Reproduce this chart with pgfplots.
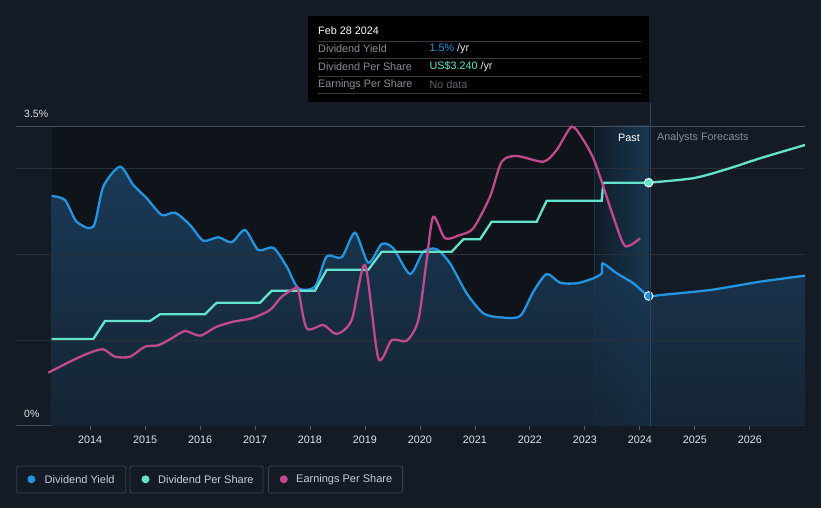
\documentclass[border=0pt]{standalone}
\usepackage{fontspec}
\setmainfont{Liberation Sans}
\usepackage{pgfplots}
\usepackage{pgfplotstable}
\pgfplotsset{compat=1.18}
\definecolor{bg}{HTML}{151B24}
\definecolor{darkreg}{HTML}{0F131A}
\definecolor{bandl}{HTML}{111B27}
\definecolor{bandr}{HTML}{183852}
\definecolor{yieldc}{HTML}{2394DF}
\definecolor{dpsc}{HTML}{64E3CC}
\definecolor{epsc}{HTML}{C04A8C}
\definecolor{gridc}{HTML}{2A2F38}
\definecolor{topgrid}{HTML}{4A4F58}
\definecolor{axisline}{HTML}{454A53}
\definecolor{tickc}{HTML}{5B616B}
\definecolor{ticklabel}{HTML}{E2E4E8}
\definecolor{fillt}{HTML}{1D4466}
\definecolor{fillb}{HTML}{16283A}
\definecolor{legtext}{HTML}{C9CDD3}
\definecolor{legbox}{HTML}{3B414C}
\definecolor{ttgray}{HTML}{8A8F96}
\definecolor{ttsep}{HTML}{3A3A3A}
\definecolor{todayc}{HTML}{264661}

% Dividend yield (%)
\pgfplotstableread{
x y
2013.301 2.683
2013.543 2.637
2013.756 2.384
2014.058 2.325
2014.240 2.792
2014.544 3.025
2014.786 2.812
2015.030 2.657
2015.303 2.462
2015.545 2.489
2015.818 2.345
2016.059 2.162
2016.332 2.202
2016.576 2.143
2016.818 2.287
2017.060 2.053
2017.333 2.080
2017.577 1.859
2017.788 1.607
2018.091 1.625
2018.304 1.978
2018.577 1.968
2018.819 2.255
2019.061 1.905
2019.305 2.123
2019.516 2.073
2019.820 1.773
2020.062 2.034
2020.305 2.062
2020.547 1.898
2020.851 1.548
2021.153 1.315
2021.457 1.268
2021.821 1.283
2022.063 1.567
2022.306 1.773
2022.548 1.672
2022.852 1.665
2023.154 1.723
2023.307 1.782
2023.325 1.898
2023.580 1.782
2023.882 1.665
2024.160 1.517
2024.373 1.528
2025.283 1.587
2026.192 1.684
2027.005 1.754
}\yieldtab

% Dividend per share (US$)
\pgfplotstableread{
x y
2013.301 1.159
2014.058 1.159
2014.271 1.398
2015.090 1.398
2015.272 1.488
2016.090 1.488
2016.303 1.642
2017.091 1.642
2017.304 1.802
2018.091 1.802
2018.304 2.080
2019.061 2.080
2019.305 2.321
2020.578 2.321
2020.789 2.486
2021.093 2.486
2021.306 2.721
2022.124 2.721
2022.306 3.000
2023.307 3.000
2023.336 3.240
2024.160 3.240
}\dpstab

\pgfplotstableread{
x y
2024.160 3.240
2024.973 3.300
2025.581 3.420
2026.187 3.565
2027.005 3.742
}\dpsfc

% Earnings per share (US$)
\pgfplotstableread{
x y
2013.240 0.710
2013.694 0.879
2013.998 0.976
2014.240 1.021
2014.453 0.923
2014.726 0.923
2014.999 1.056
2015.241 1.075
2015.484 1.168
2015.726 1.265
2015.999 1.203
2016.303 1.322
2016.605 1.389
2016.940 1.434
2017.273 1.545
2017.486 1.722
2017.727 1.834
2017.788 1.811
2017.940 1.301
2018.242 1.345
2018.486 1.225
2018.759 1.412
2019.001 2.144
2019.243 0.902
2019.487 1.145
2019.760 1.136
2019.971 1.412
2020.123 2.211
2020.243 2.787
2020.456 2.500
2020.729 2.544
2020.971 2.633
2021.275 3.054
2021.488 3.520
2021.761 3.596
2022.245 3.520
2022.488 3.676
2022.761 3.986
2022.972 3.809
2023.154 3.565
2023.307 3.253
2023.518 2.787
2023.731 2.397
2024.004 2.500
}\epstab

\begin{document}
\begin{tikzpicture}[x=1pt,y=1pt]
\useasboundingbox (0,0) rectangle (821,508);
\fill[bg] (0,0) rectangle (821,508);
\begin{axis}[
  at={(16pt,82pt)}, anchor=south west, scale only axis,
  width=789pt, height=300pt,
  xmin=2012.652, xmax=2027.005, ymin=0, ymax=3.5,
  axis x line*=bottom, axis y line=none,
  x axis line style={draw=axisline, line width=1pt, -},
  xtick={2014,2015,2016,2017,2018,2019,2020,2021,2022,2023,2024,2025,2026},
  xticklabels={2014,2015,2016,2017,2018,2019,2020,2021,2022,2023,2024,2025,2026},
  ytick=\empty,
  xticklabel style={font=\fontsize{10.8}{12}\selectfont, text=ticklabel, yshift=-2pt},
  tick align=outside, major tick length=4pt,
  xtick style={draw=tickc, line width=0.8pt},
  clip mode=individual,
]
\fill[darkreg] (axis cs:2013.307,0) rectangle (axis cs:2023.168,3.5);
\shade[left color=bandl, right color=bandr] (axis cs:2023.168,0) rectangle (axis cs:2024.16,3.5);
\draw[todayc!60!darkreg, line width=0.6pt] (axis cs:2023.168,0) -- (axis cs:2023.168,3.5);
\addplot[draw=none, top color=fillt, bottom color=fillb, fill opacity=0.8, smooth, tension=0.45] table {\yieldtab} \closedcycle;
\draw[gridc, line width=0.8pt] (axis cs:2012.652,1) -- (axis cs:2027.005,1);
\draw[gridc, line width=0.8pt] (axis cs:2012.652,2) -- (axis cs:2027.005,2);
\draw[gridc, line width=0.8pt] (axis cs:2012.652,3) -- (axis cs:2027.005,3);
\draw[topgrid, line width=0.8pt] (axis cs:2012.652,3.5) -- (axis cs:2027.005,3.5);
\addplot[yieldc, line width=2.3pt, smooth, tension=0.45] table {\yieldtab};
\addplot[only marks, mark=*, mark size=4.3pt, mark options={fill=yieldc, draw=white, line width=0.9pt}] coordinates {(2024.16,1.517)};
\end{axis}
\draw[todayc, line width=0.8pt] (650,82) -- (650,406);
\begin{axis}[
  at={(16pt,82pt)}, anchor=south west, scale only axis,
  width=789pt, height=300pt,
  xmin=2012.652, xmax=2027.005, ymin=0, ymax=3.995,
  hide axis, clip mode=individual,
]
\addplot[dpsc, line width=2.3pt] table {\dpstab};
\addplot[dpsc, line width=2.3pt, smooth, tension=0.45] table {\dpsfc};
\addplot[epsc, line width=2.3pt, smooth, tension=0.45] table {\epstab};
\addplot[only marks, mark=*, mark size=4.3pt, mark options={fill=dpsc, draw=white, line width=0.9pt}] coordinates {(2024.16,3.24)};
\end{axis}
% axis texts
\node[anchor=west, inner sep=0, text=ticklabel, font=\fontsize{10.5}{12}\selectfont] at (24,394) {3.5\%};
\node[anchor=west, inner sep=0, text=ticklabel, font=\fontsize{10.5}{12}\selectfont] at (24,94) {0\%};
\node[anchor=east, inner sep=0, text=white, font=\fontsize{10.8}{12}\selectfont] at (640,370) {Past};
\node[anchor=west, inner sep=0, text=ttgray, font=\fontsize{10.8}{12}\selectfont] at (657,370) {Analysts Forecasts};
% tooltip
\fill[black] (308,406.3) rectangle (649,492);
\foreach \yy in {467,449.7,432,414.7}{\draw[ttsep, line width=0.8pt] (318,\yy) -- (641,\yy);}
\node[anchor=west, inner sep=0, text=white, font=\fontsize{10.8}{12}\selectfont] at (318,477.3) {Feb 28 2024};
\node[anchor=west, inner sep=0, text=ttgray, font=\fontsize{10.8}{12}\selectfont] at (318,459) {Dividend Yield};
\node[anchor=west, inner sep=0, text=ttgray, font=\fontsize{10.8}{12}\selectfont] at (318,441.3) {Dividend Per Share};
\node[anchor=west, inner sep=0, text=ttgray, font=\fontsize{10.8}{12}\selectfont] at (318,423.7) {Earnings Per Share};
\node[anchor=west, inner sep=0, font=\fontsize{10.8}{12}\selectfont] at (429.3,459) {\textcolor{yieldc}{1.5\%} \textcolor{ticklabel}{/yr}};
\node[anchor=west, inner sep=0, font=\fontsize{10.8}{12}\selectfont] at (429.3,441.3) {\textcolor{dpsc}{US\$3.240} \textcolor{ticklabel}{/yr}};
\node[anchor=west, inner sep=0, text=ttgray!70!black, font=\fontsize{10.8}{12}\selectfont] at (429.3,423.7) {No data};
% legend
\draw[legbox, line width=0.8pt, rounded corners=2pt] (16.7,15) rectangle (125.7,42);
\draw[legbox, line width=0.8pt, rounded corners=2pt] (130,15) rectangle (263,42);
\draw[legbox, line width=0.8pt, rounded corners=2pt] (268.6,15) rectangle (402.6,42);
\fill[yieldc] (31.4,28.7) circle (4);
\fill[dpsc] (145.5,28.7) circle (4);
\fill[epsc] (283.8,28.7) circle (4);
\node[anchor=west, inner sep=0, text=legtext, font=\fontsize{11}{12}\selectfont] at (44.5,28.7) {Dividend Yield};
\node[anchor=west, inner sep=0, text=legtext, font=\fontsize{11}{12}\selectfont] at (158,28.7) {Dividend Per Share};
\node[anchor=west, inner sep=0, text=legtext, font=\fontsize{11}{12}\selectfont] at (296,28.7) {Earnings Per Share};
\end{tikzpicture}
\end{document}
